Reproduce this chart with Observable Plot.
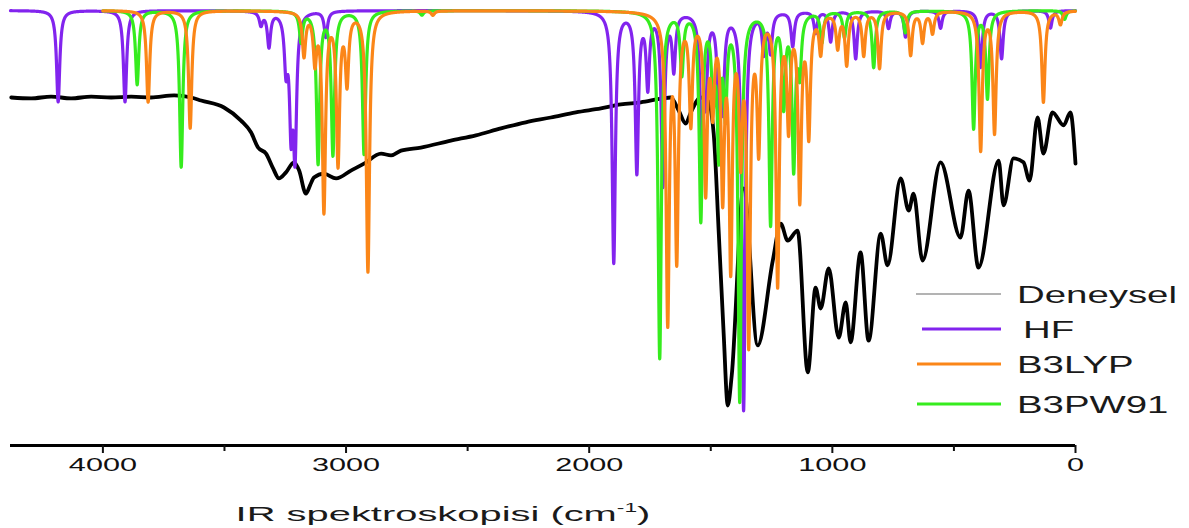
<!DOCTYPE html>
<html><head><meta charset="utf-8">
<script src="https://cdn.jsdelivr.net/npm/d3@7"></script>
<script src="https://cdn.jsdelivr.net/npm/@observablehq/plot@0.6"></script>
<style>
html,body{margin:0;padding:0;background:#fff;overflow:hidden;}
#wrap{position:relative;width:1189px;height:528px;}
#overlay{position:absolute;left:0;top:0;pointer-events:none;}
</style></head><body>
<div id="wrap"></div>
<script>
// ---- data ----
const seriesNames = ["Deneysel", "HF", "B3LYP", "B3PW91"];
const seriesColors = ["#000000", "#8224ee", "#fb8618", "#36ec1e"];
const majorTicks = [4000, 3000, 2000, 1000, 0];
const minorTicks = [3500, 2500, 1500, 500];
const xLabel = "IR spektroskopisi (cm";
const xLabelSup = "-1";

// experimental spectrum (wavenumber, transmittance %)
const expWn = [4377,4295,4213,4131,4048,3966,3884,3802,3707,3637,3596,3502,3432,3391,3362,3329,3300,3276,3247,3214,3193,3165,3148,3132,3091,3041,2980,2926,2856,2815,2774,2692,2569,2466,2363,2261,2158,2055,1952,1870,1788,1697,1665,1632,1603,1582,1541,1512,1488,1467,1447,1430,1414,1365,1307,1245,1212,1184,1143,1101,1069,1048,1015,974,945,925,884,851,801,773,719,686,666,629,555,473,440,399,316,296,255,214,189,156,132,95,49,21,0];
const expT  = [80.0,79.8,80.2,79.8,80.2,80.0,80.2,80.0,80.5,80.0,79.3,77.7,74.7,72.0,68.5,67.1,63.7,61.4,62.8,65.1,63.2,57.9,59.8,61.6,62.5,61.4,63.2,64.8,67.1,66.7,67.8,68.5,70.1,71.3,72.9,74.3,75.4,76.6,77.5,78.4,78.9,79.8,80.0,77.0,74.0,76.6,80.0,79.3,71.7,48.7,25.7,9.2,16.0,59.1,23.0,42.5,51.0,47.1,49.4,16.8,36.3,31.5,40.7,24.8,32.9,23.7,44.4,24.1,48.7,41.4,61.4,54.0,57.9,42.5,65.1,47.8,58.6,40.9,65.5,55.2,66.0,65.1,60.9,75.4,67.1,76.6,73.6,76.6,64.8];

// computed spectra: peak positions (cm-1) and transmittance at peak tip (%)
const hfPos = [4184,3909,3350,3317,3247,3226,3210,3083,1899,1804,1759,1697,1652,1537,1521,1467,1451,1365,1282,1254,1163,1069,1007,904,769,699,555,390,304,103];
const hfT   = [79,79,97,92,88,74,68,94,42,63,83,60,87,69,83,80,80,8,91,91,92,95,93,89,96,94,96,87,89,96];
const b3lypPos = [3814,3641,3173,3128,3091,3033,2996,2910,2643,1677,1640,1582,1521,1492,1451,1418,1377,1344,1303,1225,1180,1134,1097,1048,978,941,871,806,678,629,588,390,333,132,62];
const b3lypT   = [79,73,90,89,54,65,84,40,99,28,43,75,59,79,58,41,68,23,69,37,74,57,72,91,92,88,90,87,90,93,95,68,72,79,97];
const b3pwPos = [3859,3678,3185,3115,3054,2926,2688,1710,1619,1541,1490,1467,1440,1381,1254,1200,1159,1134,1043,950,830,700,419,362,45];
const b3pwT   = [83,64,93,65,67,67,99,20,86,52,82,68,78,10,51,79,64,87,93,94,87,95,73,80,98];

// ---- build tables ----
const expData = expWn.map((w, i) => ({wn: w, t: expT[i]}));
function broaden(pos, tmin, start) {
  const g = 8, pts = [];
  for (let w = start; w >= 0; w -= 0.5) {
    let t = 1;
    for (let i = 0; i < pos.length; i++) {
      const a = (100 - tmin[i]) / 100, d = (w - pos[i]) / g;
      t *= 1 - a / (1 + d * d);
    }
    pts.push({wn: w, t: 100 * t});
  }
  return pts;
}
const hfData = broaden(hfPos, hfT, 4380);
const b3lypData = broaden(b3lypPos, b3lypT, 4000);
const b3pwData = broaden(b3pwPos, b3pwT, 4000);

const plot = Plot.plot({
  width: 1189, height: 528,
  marginLeft: 10, marginRight: 114, marginTop: 10, marginBottom: 83,
  x: {domain: [4380, 0]},
  y: {domain: [0, 100], axis: null},
  style: {fontFamily: "'Liberation Sans', Arial, sans-serif", fontSize: "18px", color: "#111", background: "white", overflow: "visible"},
  marks: [
    Plot.line(expData, {x: "wn", y: "t", stroke: seriesColors[0], strokeWidth: 3.8, curve: "monotone-x", strokeLinejoin: "round"}),
    Plot.line(hfData, {x: "wn", y: "t", stroke: seriesColors[1], strokeWidth: 3.2, strokeLinejoin: "round"}),
    Plot.line(b3pwData, {x: "wn", y: "t", stroke: seriesColors[3], strokeWidth: 3.2, strokeLinejoin: "round"}),
    Plot.line(b3lypData, {x: "wn", y: "t", stroke: seriesColors[2], strokeWidth: 3.2, strokeLinejoin: "round"}),
    Plot.ruleY([0], {stroke: "#000", strokeWidth: 3}),
    Plot.axisX({ticks: majorTicks, tickSize: 8, tickPadding: 5, tickFormat: d3.format("d"), fontSize: 18, label: null, strokeWidth: 2, anchor: "bottom"}),
    Plot.axisX({ticks: minorTicks, tickSize: 6, tickFormat: () => "", label: null, strokeWidth: 2, anchor: "bottom"})
  ]
});
const wrap = document.getElementById("wrap");
wrap.appendChild(plot);

// stretch tick labels horizontally like the reference
plot.querySelectorAll('g[aria-label="x-axis tick label"] text').forEach(t => {
  const L = t.getComputedTextLength();
  if (L > 0) { t.setAttribute("textLength", L * 1.7); t.setAttribute("lengthAdjust", "spacingAndGlyphs"); }
});

// overlay: axis title and legend
const ov = d3.select(wrap).append("svg").attr("id", "overlay").attr("width", 1189).attr("height", 528)
  .style("font-family", "'Liberation Sans', Arial, sans-serif");
const title = ov.append("text").attr("transform", "translate(443,521) scale(1.9,1)")
  .attr("text-anchor", "middle").attr("font-size", 21).attr("fill", "#1a1a1a");
title.append("tspan").text(xLabel);
title.append("tspan").attr("dy", -9).attr("font-size", 12).text(xLabelSup);
title.append("tspan").attr("dy", 9).text(")");

const legY = [294, 329, 364, 404];
const legX1 = [916, 922, 917, 917];
const legTx = [1017, 1023, 1017, 1017];
const legW = [1.5, 3, 3, 3];
const legStroke = ["#9a9a9a", seriesColors[1], seriesColors[2], seriesColors[3]];
seriesNames.forEach((n, i) => {
  ov.append("line").attr("x1", legX1[i]).attr("x2", 1001).attr("y1", legY[i]).attr("y2", legY[i])
    .attr("stroke", legStroke[i]).attr("stroke-width", legW[i]);
  ov.append("text").attr("transform", `translate(${legTx[i]},${legY[i] + 9}) scale(1.6,1)`)
    .attr("font-size", 24).attr("fill", "#1a1a1a").text(n);
});
</script></body></html>
